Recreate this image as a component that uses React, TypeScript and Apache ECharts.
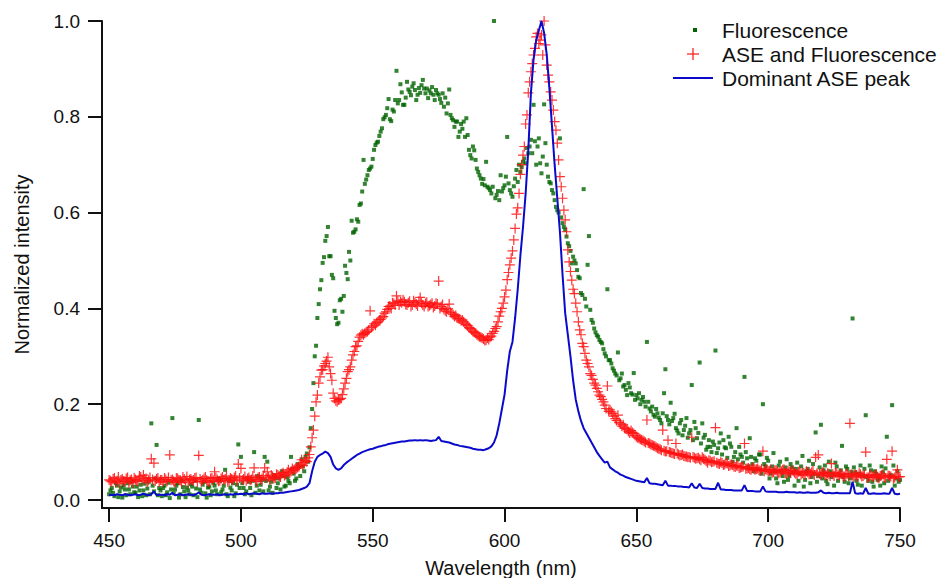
import { useEffect, useRef } from 'react';
import * as echarts from 'echarts';

// Wavelength grid of the spectra (nm): whole-nm samples and the half-nm samples in between
const wavelengthStart = 450;
const wavelengthStep = 1;
const halfStepStart = 450.5;

// Fluorescence (green squares), whole-nm samples 450..750
const fluorescence = [
  0.012, 0.025, 0.008, 0.030, 0.018, 0.005, 0.022, 0.035, 0.012, 0.028,
  0.015, 0.006, 0.032, 0.020, 0.010, 0.038, 0.160, 0.018, 0.115, 0.025,
  0.008, 0.030, 0.016, 0.004, 0.171, 0.022, 0.035, 0.012, 0.027, 0.006,
  0.020, 0.033, 0.010, 0.024, 0.167, 0.015, 0.038, 0.005, 0.028, 0.018,
  0.030, 0.012, 0.040, 0.022, 0.063, 0.008, 0.026, 0.035, 0.014, 0.116,
  0.090, 0.025, 0.018, 0.038, 0.010, 0.100, 0.030, 0.020, 0.042, 0.090,
  0.080, 0.028, 0.015, 0.045, 0.035, 0.022, 0.050, 0.030, 0.040, 0.090,
  0.055, 0.045, 0.070, 0.085, 0.060, 0.097, 0.110, 0.190, 0.300, 0.380,
  0.440, 0.495, 0.541, 0.570, 0.509, 0.463, 0.380, 0.370, 0.420, 0.426,
  0.474, 0.518, 0.583, 0.560, 0.586, 0.616, 0.644, 0.660, 0.678, 0.692,
  0.712, 0.741, 0.748, 0.769, 0.795, 0.804, 0.837, 0.791, 0.811, 0.896,
  0.835, 0.851, 0.825, 0.873, 0.852, 0.863, 0.856, 0.846, 0.850, 0.877,
  0.849, 0.839, 0.849, 0.846, 0.856, 0.846, 0.829, 0.821, 0.807, 0.857,
  0.797, 0.779, 0.790, 0.769, 0.775, 0.758, 0.762, 0.720, 0.738, 0.710,
  0.685, 0.671, 0.670, 0.706, 0.651, 0.640, 1.000, 0.637, 0.626, 0.644,
  0.657, 0.758, 0.647, 0.633, 0.671, 0.664, 0.685, 0.706, 0.703, 0.724,
  0.752, 0.825, 0.700, 0.755, 0.682, 0.826, 0.700, 0.664, 0.647, 0.626,
  0.605, 0.755, 0.578, 0.564, 0.536, 0.520, 0.508, 0.494, 0.466, 0.432,
  0.649, 0.404, 0.551, 0.376, 0.358, 0.344, 0.334, 0.327, 0.306, 0.440,
  0.292, 0.275, 0.264, 0.308, 0.254, 0.237, 0.230, 0.244, 0.223, 0.265,
  0.219, 0.223, 0.209, 0.205, 0.330, 0.191, 0.195, 0.174, 0.181, 0.167,
  0.181, 0.273, 0.167, 0.203, 0.171, 0.150, 0.139, 0.167, 0.146, 0.171,
  0.139, 0.240, 0.163, 0.129, 0.287, 0.160, 0.136, 0.111, 0.111, 0.122,
  0.312, 0.108, 0.139, 0.125, 0.108, 0.132, 0.111, 0.090, 0.150, 0.111,
  0.090, 0.257, 0.087, 0.129, 0.075, 0.087, 0.065, 0.095, 0.200, 0.070,
  0.082, 0.055, 0.098, 0.045, 0.072, 0.060, 0.038, 0.085, 0.050, 0.068,
  0.030, 0.078, 0.055, 0.092, 0.042, 0.065, 0.035, 0.075, 0.141, 0.050,
  0.157, 0.062, 0.040, 0.080, 0.048, 0.030, 0.070, 0.052, 0.113, 0.038,
  0.065, 0.045, 0.379, 0.058, 0.032, 0.072, 0.050, 0.177, 0.040, 0.062,
  0.028, 0.055, 0.045, 0.070, 0.035, 0.132, 0.050, 0.198, 0.030, 0.060,
  0.042,
];

// Fluorescence (green squares), half-nm samples 450.5..749.5
const fluorescenceHalf = [
  0.020, 0.015, 0.035, 0.006, 0.026, 0.030, 0.010, 0.022, 0.038, 0.016,
  0.028, 0.020, 0.008, 0.034, 0.024, 0.012, 0.030, 0.045, 0.010, 0.020,
  0.025, 0.010, 0.036, 0.022, 0.014, 0.030, 0.005, 0.040, 0.018, 0.026,
  0.012, 0.028, 0.040, 0.006, 0.022, 0.032, 0.014, 0.026, 0.010, 0.036,
  0.020, 0.045, 0.016, 0.030, 0.012, 0.040, 0.020, 0.008, 0.032, 0.025,
  0.035, 0.012, 0.045, 0.025, 0.040, 0.015, 0.050, 0.032, 0.018, 0.040,
  0.020, 0.038, 0.052, 0.025, 0.045, 0.060, 0.028, 0.048, 0.035, 0.065,
  0.040, 0.075, 0.050, 0.070, 0.090, 0.080, 0.150, 0.244, 0.322, 0.409,
  0.459, 0.507, 0.551, 0.509, 0.470, 0.395, 0.367, 0.417, 0.393, 0.489,
  0.461, 0.500, 0.558, 0.565, 0.581, 0.619, 0.710, 0.669, 0.689, 0.696,
  0.731, 0.746, 0.760, 0.776, 0.799, 0.818, 0.795, 0.815, 0.835, 0.828,
  0.868, 0.825, 0.840, 0.857, 0.845, 0.870, 0.835, 0.860, 0.866, 0.859,
  0.859, 0.855, 0.862, 0.835, 0.849, 0.837, 0.849, 0.840, 0.828, 0.804,
  0.793, 0.790, 0.758, 0.785, 0.790, 0.797, 0.731, 0.713, 0.730, 0.692,
  0.678, 0.660, 0.657, 0.654, 0.647, 0.654, 0.630, 0.645, 0.678, 0.651,
  0.675, 0.661, 0.640, 0.655, 0.689, 0.700, 0.695, 0.713, 0.735, 0.738,
  0.724, 0.749, 0.738, 0.703, 0.717, 0.745, 0.675, 0.661, 0.640, 0.612,
  0.600, 0.590, 0.570, 0.550, 0.530, 0.494, 0.500, 0.480, 0.463, 0.428,
  0.420, 0.491, 0.397, 0.370, 0.350, 0.341, 0.330, 0.315, 0.300, 0.292,
  0.285, 0.270, 0.260, 0.250, 0.264, 0.240, 0.219, 0.235, 0.220, 0.209,
  0.212, 0.200, 0.215, 0.195, 0.205, 0.185, 0.178, 0.190, 0.172, 0.160,
  0.223, 0.175, 0.158, 0.165, 0.180, 0.145, 0.160, 0.135, 0.155, 0.130,
  0.146, 0.125, 0.150, 0.140, 0.118, 0.130, 0.105, 0.125, 0.100, 0.115,
  0.098, 0.120, 0.095, 0.110, 0.088, 0.118, 0.080, 0.100, 0.085, 0.095,
  0.078, 0.100, 0.070, 0.090, 0.060, 0.082, 0.095, 0.055, 0.075, 0.088,
  0.045, 0.070, 0.062, 0.035, 0.080, 0.050, 0.068, 0.042, 0.075, 0.058,
  0.065, 0.040, 0.070, 0.028, 0.060, 0.082, 0.048, 0.055, 0.038, 0.068,
  0.045, 0.072, 0.033, 0.060, 0.055, 0.078, 0.040, 0.062, 0.048, 0.070,
  0.035, 0.058, 0.068, 0.040, 0.055, 0.030, 0.065, 0.048, 0.072, 0.038,
  0.060, 0.042, 0.030, 0.058, 0.066, 0.040, 0.052, 0.072, 0.045, 0.038,
];

// ASE and Fluorescence (red crosses), whole-nm samples 450..750
const aseAndFluorescence = [
  0.042, 0.038, 0.046, 0.040, 0.035, 0.044, 0.039, 0.047, 0.041, 0.036,
  0.043, 0.040, 0.048, 0.052, 0.045, 0.041, 0.086, 0.077, 0.044, 0.038,
  0.042, 0.046, 0.039, 0.094, 0.043, 0.037, 0.045, 0.041, 0.048, 0.040,
  0.036, 0.044, 0.042, 0.047, 0.093, 0.039, 0.045, 0.041, 0.037, 0.046,
  0.059, 0.043, 0.040, 0.048, 0.044, 0.038, 0.046, 0.042, 0.050, 0.075,
  0.066, 0.044, 0.040, 0.047, 0.043, 0.067, 0.039, 0.048, 0.045, 0.067,
  0.059, 0.042, 0.049, 0.046, 0.052, 0.048, 0.057, 0.053, 0.063, 0.060,
  0.062, 0.066, 0.070, 0.084, 0.078, 0.080, 0.095, 0.130, 0.175, 0.219,
  0.257, 0.272, 0.285, 0.298, 0.264, 0.223, 0.207, 0.209, 0.212, 0.232,
  0.254, 0.272, 0.292, 0.310, 0.322, 0.340, 0.347, 0.348, 0.352, 0.395,
  0.363, 0.365, 0.372, 0.377, 0.383, 0.393, 0.404, 0.400, 0.410, 0.426,
  0.407, 0.412, 0.414, 0.407, 0.415, 0.407, 0.412, 0.405, 0.423, 0.407,
  0.410, 0.404, 0.408, 0.402, 0.411, 0.457, 0.404, 0.398, 0.393, 0.409,
  0.390, 0.383, 0.380, 0.378, 0.376, 0.369, 0.364, 0.358, 0.352, 0.348,
  0.343, 0.340, 0.336, 0.334, 0.335, 0.342, 0.352, 0.362, 0.384, 0.400,
  0.424, 0.460, 0.491, 0.520, 0.567, 0.610, 0.680, 0.720, 0.785, 0.850,
  0.894, 0.929, 0.967, 0.953, 0.971, 1.000, 0.908, 0.873, 0.835, 0.790,
  0.745, 0.675, 0.630, 0.585, 0.522, 0.477, 0.440, 0.411, 0.372, 0.345,
  0.320, 0.292, 0.278, 0.260, 0.244, 0.233, 0.219, 0.210, 0.198, 0.238,
  0.188, 0.181, 0.170, 0.177, 0.159, 0.157, 0.150, 0.143, 0.145, 0.139,
  0.132, 0.129, 0.126, 0.122, 0.167, 0.118, 0.115, 0.112, 0.108, 0.106,
  0.146, 0.101, 0.125, 0.099, 0.097, 0.118, 0.095, 0.094, 0.092, 0.091,
  0.090, 0.131, 0.088, 0.087, 0.085, 0.089, 0.084, 0.078, 0.082, 0.080,
  0.151, 0.076, 0.079, 0.073, 0.077, 0.071, 0.074, 0.070, 0.072, 0.067,
  0.069, 0.118, 0.066, 0.064, 0.068, 0.063, 0.066, 0.061, 0.102, 0.064,
  0.060, 0.063, 0.058, 0.062, 0.056, 0.060, 0.064, 0.055, 0.059, 0.062,
  0.057, 0.054, 0.060, 0.056, 0.052, 0.058, 0.055, 0.061, 0.089, 0.094,
  0.053, 0.057, 0.051, 0.055, 0.076, 0.050, 0.056, 0.052, 0.054, 0.049,
  0.055, 0.160, 0.051, 0.053, 0.048, 0.054, 0.050, 0.100, 0.047, 0.052,
  0.049, 0.053, 0.046, 0.051, 0.048, 0.085, 0.050, 0.102, 0.047, 0.063,
  0.049,
];

// ASE and Fluorescence (red crosses), half-nm samples 450.5..749.5
const aseAndFluorescenceHalf = [
  0.040, 0.044, 0.037, 0.048, 0.042, 0.039, 0.045, 0.036, 0.043, 0.046,
  0.039, 0.050, 0.041, 0.044, 0.038, 0.047, 0.043, 0.040, 0.046, 0.042,
  0.038, 0.043, 0.047, 0.041, 0.039, 0.046, 0.042, 0.037, 0.044, 0.049,
  0.043, 0.040, 0.046, 0.038, 0.044, 0.042, 0.048, 0.039, 0.045, 0.041,
  0.047, 0.039, 0.045, 0.042, 0.050, 0.041, 0.044, 0.047, 0.040, 0.046,
  0.042, 0.049, 0.045, 0.041, 0.050, 0.044, 0.047, 0.042, 0.051, 0.046,
  0.048, 0.052, 0.045, 0.054, 0.050, 0.055, 0.051, 0.058, 0.056, 0.066,
  0.064, 0.068, 0.075, 0.072, 0.082, 0.088, 0.111, 0.146, 0.205, 0.244,
  0.271, 0.280, 0.290, 0.278, 0.250, 0.212, 0.205, 0.210, 0.220, 0.244,
  0.268, 0.278, 0.303, 0.320, 0.331, 0.344, 0.345, 0.350, 0.355, 0.360,
  0.368, 0.370, 0.376, 0.380, 0.390, 0.398, 0.405, 0.412, 0.407, 0.415,
  0.414, 0.418, 0.408, 0.412, 0.404, 0.416, 0.409, 0.415, 0.411, 0.404,
  0.413, 0.406, 0.411, 0.405, 0.409, 0.400, 0.408, 0.395, 0.399, 0.392,
  0.387, 0.385, 0.379, 0.374, 0.372, 0.366, 0.360, 0.355, 0.350, 0.345,
  0.341, 0.338, 0.333, 0.338, 0.340, 0.348, 0.358, 0.372, 0.393, 0.411,
  0.438, 0.475, 0.505, 0.543, 0.597, 0.640, 0.700, 0.738, 0.804, 0.873,
  0.911, 0.943, 0.974, 0.960, 0.929, 0.950, 0.887, 0.852, 0.814, 0.772,
  0.710, 0.654, 0.605, 0.560, 0.497, 0.459, 0.431, 0.393, 0.355, 0.327,
  0.306, 0.285, 0.264, 0.252, 0.240, 0.226, 0.216, 0.205, 0.191, 0.185,
  0.184, 0.175, 0.166, 0.162, 0.154, 0.150, 0.147, 0.140, 0.141, 0.135,
  0.130, 0.127, 0.124, 0.120, 0.119, 0.116, 0.113, 0.110, 0.107, 0.104,
  0.103, 0.102, 0.100, 0.098, 0.096, 0.097, 0.093, 0.095, 0.091, 0.089,
  0.088, 0.090, 0.086, 0.088, 0.083, 0.086, 0.081, 0.083, 0.079, 0.081,
  0.078, 0.075, 0.077, 0.074, 0.076, 0.072, 0.073, 0.069, 0.071, 0.068,
  0.070, 0.065, 0.067, 0.063, 0.066, 0.064, 0.062, 0.065, 0.060, 0.063,
  0.061, 0.057, 0.062, 0.059, 0.058, 0.063, 0.056, 0.061, 0.057, 0.060,
  0.055, 0.059, 0.053, 0.057, 0.060, 0.054, 0.058, 0.052, 0.056, 0.055,
  0.058, 0.052, 0.056, 0.050, 0.054, 0.057, 0.051, 0.055, 0.049, 0.053,
  0.050, 0.054, 0.048, 0.052, 0.056, 0.049, 0.053, 0.047, 0.051, 0.048,
  0.052, 0.047, 0.050, 0.054, 0.046, 0.051, 0.049, 0.045, 0.052, 0.048,
];

// Dominant ASE peak (blue line), whole-nm samples 450..750
const dominantAsePeak = [
  0.010, 0.011, 0.010, 0.012, 0.011, 0.010, 0.012, 0.011, 0.010, 0.011,
  0.012, 0.010, 0.011, 0.013, 0.011, 0.010, 0.012, 0.018, 0.010, 0.011,
  0.011, 0.010, 0.012, 0.011, 0.015, 0.010, 0.011, 0.012, 0.010, 0.011,
  0.012, 0.011, 0.010, 0.012, 0.016, 0.011, 0.010, 0.011, 0.012, 0.011,
  0.011, 0.012, 0.010, 0.011, 0.012, 0.011, 0.012, 0.011, 0.013, 0.012,
  0.013, 0.012, 0.014, 0.012, 0.013, 0.014, 0.013, 0.012, 0.014, 0.013,
  0.013, 0.014, 0.013, 0.014, 0.014, 0.015, 0.015, 0.016, 0.017, 0.018,
  0.019, 0.020, 0.021, 0.023, 0.025, 0.028, 0.035, 0.060, 0.080, 0.090,
  0.094, 0.097, 0.101, 0.098, 0.090, 0.074, 0.066, 0.063, 0.066, 0.073,
  0.078, 0.082, 0.086, 0.090, 0.094, 0.097, 0.100, 0.102, 0.104, 0.106,
  0.107, 0.109, 0.111, 0.112, 0.114, 0.115, 0.117, 0.118, 0.119, 0.120,
  0.121, 0.122, 0.122, 0.123, 0.124, 0.124, 0.125, 0.124, 0.125, 0.124,
  0.125, 0.124, 0.123, 0.124, 0.125, 0.132, 0.123, 0.122, 0.121, 0.120,
  0.118, 0.116, 0.115, 0.113, 0.112, 0.111, 0.110, 0.109, 0.107, 0.106,
  0.105, 0.105, 0.104, 0.106, 0.108, 0.112, 0.120, 0.135, 0.160, 0.190,
  0.220, 0.270, 0.310, 0.330, 0.380, 0.440, 0.510, 0.570, 0.640, 0.730,
  0.850, 0.920, 0.960, 0.980, 1.000, 0.975, 0.930, 0.860, 0.780, 0.700,
  0.630, 0.560, 0.470, 0.390, 0.345, 0.300, 0.250, 0.210, 0.185, 0.165,
  0.150, 0.140, 0.130, 0.120, 0.110, 0.100, 0.092, 0.085, 0.078, 0.080,
  0.068, 0.064, 0.060, 0.057, 0.053, 0.051, 0.048, 0.046, 0.044, 0.042,
  0.040, 0.039, 0.038, 0.037, 0.046, 0.035, 0.034, 0.034, 0.033, 0.032,
  0.031, 0.040, 0.030, 0.030, 0.029, 0.029, 0.028, 0.028, 0.027, 0.027,
  0.026, 0.035, 0.026, 0.025, 0.034, 0.025, 0.024, 0.024, 0.023, 0.023,
  0.023, 0.036, 0.022, 0.022, 0.021, 0.021, 0.021, 0.020, 0.020, 0.020,
  0.020, 0.031, 0.019, 0.019, 0.019, 0.018, 0.018, 0.018, 0.028, 0.018,
  0.017, 0.017, 0.017, 0.017, 0.016, 0.016, 0.016, 0.017, 0.016, 0.016,
  0.016, 0.015, 0.016, 0.015, 0.015, 0.016, 0.015, 0.015, 0.015, 0.016,
  0.020, 0.015, 0.014, 0.015, 0.014, 0.014, 0.015, 0.014, 0.014, 0.014,
  0.014, 0.014, 0.038, 0.014, 0.013, 0.014, 0.013, 0.025, 0.013, 0.013,
  0.014, 0.013, 0.013, 0.013, 0.014, 0.013, 0.013, 0.025, 0.013, 0.012,
  0.013,
];

const xTicks = [450, 500, 550, 600, 650, 700, 750];
const yTicks = [0, 0.2, 0.4, 0.6, 0.8, 1.0];

const seriesNames = ['Fluorescence', 'ASE and Fluorescence', 'Dominant ASE peak'];

const FONT = '"Liberation Sans", Arial, Helvetica, sans-serif';
const GREEN = '#006400';
const RED = '#ff1010';
const BLUE = '#0a0acc';

const toPairs = (values: number[], start: number) =>
  values.map((v, i) => [start + i * wavelengthStep, v]);

const mergeSamples = (whole: number[], half: number[]) => {
  const out: number[][] = [];
  const a = toPairs(whole, wavelengthStart);
  const b = toPairs(half, halfStepStart);
  for (let i = 0; i < a.length; i++) {
    out.push(a[i]);
    if (i < b.length) out.push(b[i]);
  }
  return out;
};

export default function App() {
  const ref = useRef<HTMLDivElement>(null);

  useEffect(() => {
    const chart = echarts.init(ref.current as HTMLDivElement, null, { renderer: 'svg' });
    chart.setOption({
      animation: false,
      backgroundColor: '#ffffff',
      grid: { left: 102, right: 39, top: 21, bottom: 70, containLabel: false, outerBoundsMode: 'none' },
      xAxis: {
        type: 'value',
        min: 447.3,
        max: 750,
        name: 'Wavelength (nm)',
        nameLocation: 'middle',
        nameGap: 50,
        nameTextStyle: { fontFamily: FONT, fontSize: 20, color: '#111' },
        axisLine: { show: true, onZero: false, lineStyle: { color: '#111', width: 2 } },
        axisTick: { show: true, inside: false, length: 14, customValues: xTicks, lineStyle: { color: '#111', width: 2 } },
        axisLabel: { show: true, customValues: xTicks, margin: 23, fontFamily: FONT, fontSize: 19, color: '#111' },
        splitLine: { show: false },
      },
      yAxis: {
        type: 'value',
        min: -0.0167,
        max: 1.0,
        name: 'Normalized intensity',
        nameLocation: 'middle',
        nameGap: 70,
        nameRotate: 90,
        nameTextStyle: { fontFamily: FONT, fontSize: 20, color: '#111' },
        axisLine: { show: true, onZero: false, lineStyle: { color: '#111', width: 2 } },
        axisTick: { show: true, inside: false, length: 14, customValues: yTicks, lineStyle: { color: '#111', width: 2 } },
        axisLabel: {
          show: true,
          customValues: yTicks,
          margin: 22,
          fontFamily: FONT,
          fontSize: 19,
          color: '#111',
          formatter: (v: number) => v.toFixed(1),
        },
        splitLine: { show: false },
      },
      series: [
        {
          name: seriesNames[0],
          type: 'scatter',
          data: mergeSamples(fluorescence, fluorescenceHalf),
          symbol: 'rect',
          symbolSize: 4,
          itemStyle: { color: GREEN },
          silent: true,
          z: 2,
        },
        {
          name: seriesNames[1],
          type: 'scatter',
          data: mergeSamples(aseAndFluorescence, aseAndFluorescenceHalf),
          symbol: 'path://M0,5L10,5M5,0L5,10',
          symbolSize: 10,
          itemStyle: { color: 'rgba(0,0,0,0)', borderColor: RED, borderWidth: 1.2, opacity: 0.85 },
          silent: true,
          z: 3,
        },
        {
          name: seriesNames[2],
          type: 'line',
          data: toPairs(dominantAsePeak, wavelengthStart),
          showSymbol: false,
          symbol: 'none',
          lineStyle: { color: BLUE, width: 2 },
          itemStyle: { color: BLUE },
          silent: true,
          z: 4,
        },
      ],
      graphic: [
        { type: 'rect', shape: { x: 693, y: 28, width: 4, height: 4 }, style: { fill: GREEN } },
        { type: 'line', shape: { x1: 687, y1: 54, x2: 699, y2: 54 }, style: { stroke: RED, lineWidth: 1.2 } },
        { type: 'line', shape: { x1: 693, y1: 48, x2: 693, y2: 60 }, style: { stroke: RED, lineWidth: 1.2 } },
        { type: 'line', shape: { x1: 673, y1: 78, x2: 713, y2: 78 }, style: { stroke: BLUE, lineWidth: 2 } },
        { type: 'text', x: 722, y: 30, style: { text: seriesNames[0], font: `21px ${FONT}`, fill: '#111', verticalAlign: 'middle' } },
        { type: 'text', x: 722, y: 54, style: { text: seriesNames[1], font: `21px ${FONT}`, fill: '#111', verticalAlign: 'middle' } },
        { type: 'text', x: 722, y: 78, style: { text: seriesNames[2], font: `21px ${FONT}`, fill: '#111', verticalAlign: 'middle' } },
      ],
    });
    return () => chart.dispose();
  }, []);

  return (
    <div
      ref={ref}
      style={{ position: 'absolute', left: 0, top: 0, width: 939, height: 578 }}
    />
  );
}
